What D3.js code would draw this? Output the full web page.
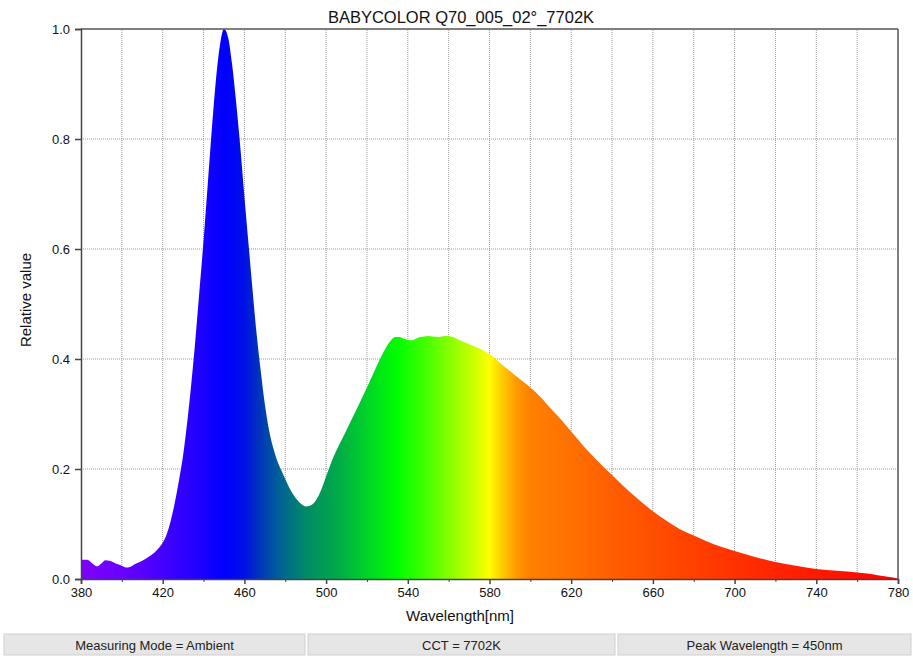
<!DOCTYPE html>
<html>
<head>
<meta charset="utf-8">
<script src="https://cdn.jsdelivr.net/npm/d3@7"></script>
<style>
  html, body { margin: 0; padding: 0; background: #fff; }
  svg { display: block; font-family: "Liberation Sans", Arial, Helvetica, sans-serif; }
</style>
</head>
<body>
<svg id="chart" width="913" height="659"></svg>
<script>
// ---- data ----
const title = "BABYCOLOR Q70_005_02°_7702K";
const xLabel = "Wavelength[nm]";
const yLabel = "Relative value";
const xTicks = [380, 420, 460, 500, 540, 580, 620, 660, 700, 740, 780];
const yTicks = [0.0, 0.2, 0.4, 0.6, 0.8, 1.0];
const infoLabels = ["Measuring Mode = Ambient", "CCT = 7702K", "Peak Wavelength = 450nm"];

const wavelengths = [380,383,386,388,390,392,394,397,400,402,404,407,410,413,416,418,420,422,424,426,428,430,432,434,436,438,440,442,444,446,448,450,452,454,456,458,460,462,464,466,468,470,472,474,476,478,480,482,484,486,488,490,492,494,496,498,500,502,504,506,508,510,515,520,524,526,528,530,532,534,536,538,540,542,544,546,548,550,552,555,558,560,562,564,566,568,570,572,575,578,580,583,586,590,595,600,605,610,615,620,626,630,635,640,645,650,655,660,667,673,680,686,693,700,710,720,730,740,750,760,765,770,775,780];
const relValues = [0.035,0.035,0.027,0.023,0.028,0.034,0.033,0.028,0.024,0.021,0.022,0.028,0.033,0.040,0.048,0.056,0.066,0.082,0.107,0.14,0.18,0.225,0.285,0.355,0.435,0.525,0.615,0.715,0.815,0.905,0.97,1.0,0.985,0.935,0.865,0.785,0.695,0.61,0.525,0.445,0.378,0.318,0.272,0.24,0.216,0.198,0.182,0.166,0.153,0.143,0.136,0.132,0.133,0.138,0.149,0.166,0.187,0.207,0.225,0.241,0.256,0.271,0.309,0.348,0.381,0.397,0.412,0.425,0.435,0.44,0.44,0.437,0.435,0.434,0.437,0.44,0.441,0.442,0.441,0.44,0.442,0.442,0.44,0.437,0.433,0.43,0.427,0.424,0.419,0.413,0.409,0.40,0.39,0.378,0.363,0.348,0.331,0.31,0.29,0.268,0.242,0.226,0.207,0.189,0.171,0.154,0.138,0.123,0.105,0.091,0.079,0.069,0.059,0.051,0.04,0.031,0.024,0.018,0.015,0.012,0.01,0.007,0.004,0.001];

// ---- layout / style ----
const W = 913, H = 659;
const M = { left: 81, right: 15, top: 29, bottom: 80 };
const plotW = W - M.left - M.right, plotH = H - M.top - M.bottom;
const gradStops = [
  [380,"#8000ff"],[400,"#6a00ff"],[420,"#4400ff"],[440,"#1a00ff"],[450,"#0000ff"],
  [460,"#0010e6"],[468,"#0038b8"],[478,"#006494"],[490,"#008a66"],[505,"#00a84a"],
  [520,"#00d428"],[535,"#00ff00"],[548,"#40ff00"],[562,"#90ff00"],[574,"#d8ff00"],
  [580,"#ffff00"],[586,"#ffcc00"],[593,"#ff9c00"],[600,"#ff8000"],[620,"#ff7000"],
  [645,"#ff5a00"],[680,"#ff4000"],[710,"#ff2a00"],[750,"#ff1400"],[780,"#ff0000"]
];

const svg = d3.select("#chart");
const x = d3.scaleLinear().domain([380, 780]).range([M.left, M.left + plotW]);
const y = d3.scaleLinear().domain([0, 1]).range([M.top + plotH, M.top]);

// gradient
const defs = svg.append("defs");
const grad = defs.append("linearGradient").attr("id", "spec")
  .attr("gradientUnits", "userSpaceOnUse")
  .attr("x1", x(380)).attr("x2", x(780)).attr("y1", 0).attr("y2", 0);
grad.selectAll("stop").data(gradStops).join("stop")
  .attr("offset", d => (d[0] - 380) / 400)
  .attr("stop-color", d => d[1]);

// grid
const gridG = svg.append("g");
gridG.selectAll("line.v").data(d3.range(400, 780, 20)).join("line")
  .attr("x1", d => x(d)).attr("x2", d => x(d))
  .attr("y1", y(0)).attr("y2", y(1))
  .attr("stroke", "#9a9a9a").attr("stroke-width", 1).attr("stroke-dasharray", "1,1");
gridG.selectAll("line.h").data([0.2, 0.4, 0.6, 0.8]).join("line")
  .attr("x1", x(380)).attr("x2", x(780))
  .attr("y1", d => y(d)).attr("y2", d => y(d))
  .attr("stroke", "#9a9a9a").attr("stroke-width", 1).attr("stroke-dasharray", "1,1");

// area
const pts = wavelengths.map((w, i) => [w, relValues[i]]);
const area = d3.area()
  .x(d => x(d[0])).y0(y(0)).y1(d => y(d[1]))
  .curve(d3.curveMonotoneX);
svg.append("path").datum(pts).attr("d", area).attr("fill", "url(#spec)");

// frame top/right
svg.append("line").attr("x1", x(380)).attr("x2", x(780)).attr("y1", y(1)).attr("y2", y(1))
  .attr("stroke", "#555").attr("stroke-width", 1.5);
svg.append("line").attr("x1", x(780)).attr("x2", x(780)).attr("y1", y(1)).attr("y2", y(0))
  .attr("stroke", "#555").attr("stroke-width", 1.5);

// axes
const xAxis = svg.append("g").attr("transform", `translate(0,${y(0)})`)
  .call(d3.axisBottom(x).tickValues(xTicks).tickSize(5).tickPadding(4).tickFormat(d3.format("d")));
svg.append("g").attr("transform", `translate(0,${y(0)})`)
  .call(d3.axisBottom(x).tickValues(d3.range(400, 780, 40)).tickSize(3).tickFormat(""))
  .call(g => g.select(".domain").remove())
  .selectAll("line").attr("stroke", "#444");
const yAxis = svg.append("g").attr("transform", `translate(${x(380)},0)`)
  .call(d3.axisLeft(y).tickValues(yTicks).tickSize(6).tickPadding(5).tickFormat(d3.format(".1f")));
[xAxis, yAxis].forEach(g => {
  g.select(".domain").attr("stroke", "#444").attr("stroke-width", 1.5);
  g.selectAll(".tick line").attr("stroke", "#444").attr("stroke-width", 1.5);
  g.selectAll(".tick text").attr("fill", "#111").style("font-size", "13px");
});

// titles
svg.append("text").attr("x", 461).attr("y", 22.5).attr("text-anchor", "middle")
  .style("font-size", "16.5px").attr("fill", "#111").text(title);
svg.append("text").attr("x", 460).attr("y", 621).attr("text-anchor", "middle")
  .style("font-size", "15px").attr("fill", "#111").text(xLabel);
svg.append("text").attr("transform", "translate(31,300) rotate(-90)").attr("text-anchor", "middle")
  .style("font-size", "15px").attr("fill", "#111").text(yLabel);

// info bar
const boxes = [[4, 305], [308, 615], [618, 911]];
const info = svg.append("g");
info.selectAll("rect").data(infoLabels).join("rect")
  .attr("x", (d, i) => boxes[i][0]).attr("y", 634)
  .attr("width", (d, i) => boxes[i][1] - boxes[i][0]).attr("height", 21)
  .attr("fill", "#e6e6e6").attr("stroke", "#d0d0d0").attr("stroke-width", 1);
info.selectAll("text").data(infoLabels).join("text")
  .attr("x", (d, i) => (boxes[i][0] + boxes[i][1]) / 2).attr("y", 649.5)
  .attr("text-anchor", "middle").style("font-size", "13px").attr("fill", "#222")
  .text(d => d);
</script>
</body>
</html>
